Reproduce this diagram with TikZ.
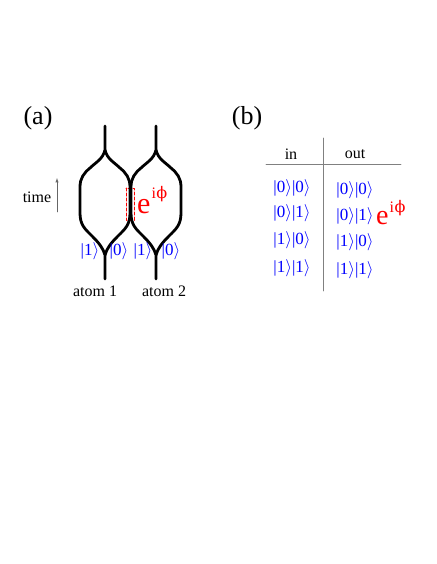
\documentclass[tikz,border=0pt]{standalone}
\usepackage{fontspec}
\setmainfont{Liberation Serif}
\newcommand{\ketof}[1]{|#1\ensuremath{\rangle}}
\newfontfamily\symfont{DejaVu Serif}
\newcommand{\symbolphi}{{\symfont\char"03D5}}
\newcommand{\phasetxt}[1]{e\kern1pt\raisebox{#1}{\fontsize{16}{16}\selectfont i\kern.5pt\symbolphi}}
\begin{document}
\begin{tikzpicture}[x=1pt, y=-1pt, line cap=round, line join=round]
  \tikzset{strand/.style={draw=black, line width=2.8pt},
    ket/.style={text=blue, font=\fontsize{17}{17}\selectfont, inner sep=0pt},
    lbl/.style={font=\fontsize{16}{16}\selectfont, inner sep=0pt},
    panel/.style={font=\fontsize{26}{26}\selectfont, inner sep=0pt},
    phase/.style={text=red, inner sep=0pt, anchor=base west},
    rule/.style={draw=black!50, line width=.6pt}}
  \useasboundingbox (0,0) rectangle (436,564);

  % (a)
  \node[panel] (panela) at (38,118) {(a)};
  \draw[red, line width=1pt, densely dashed] (126,188) rectangle (134,220);
  \foreach \n/\x in {one/105,two/156} {
    \draw[strand] (\x,126) -- (\x,150)
      .. controls (\x-2,159) and (\x-10,163) .. (\x-15,168)
      .. controls (\x-21,173) and (\x-25,178) .. (\x-25,187) -- (\x-25,213)
      .. controls (\x-25,225) and (\x-20,229) .. (\x-13,236)
      .. controls (\x-6,243) and (\x-2,248) .. (\x,255) -- (\x,279);
    \draw[strand] (\x,150)
      .. controls (\x+2,159) and (\x+10,163) .. (\x+15,168)
      .. controls (\x+21,173) and (\x+25,178) .. (\x+25,187) -- (\x+25,213)
      .. controls (\x+25,225) and (\x+20,229) .. (\x+13,236)
      .. controls (\x+6,243) and (\x+2,248) .. (\x,255);
  }
  \node[phase, font=\fontsize{30}{30}\selectfont] (gatephase) at (137,213) {\phasetxt{15pt}};
  \foreach \n/\x/\v in {ka/90/1,kb/119/0,kc/143/1,kd/171/0}
    \node[ket] (\n) at (\x,251) {\ketof{\v}};
  \node[lbl] (atomone) at (95,291) {atom 1};
  \node[lbl] (atomtwo) at (164,291) {atom 2};
  \node[lbl] (timelbl) at (37,197) {time};
  \coordinate (tstart) at (57,212);
  \coordinate (tend) at (57,178);
  \draw[-latex, black!60, line width=.5pt] (tstart) -- (tend);

  % (b)
  \node[panel] (panelb) at (247,118) {(b)};
  \coordinate (vtop) at (323,138);
  \coordinate (vbot) at (323,291);
  \coordinate (hleft) at (266,164);
  \coordinate (hright) at (401,164);
  \draw[rule] (vtop) -- (vbot);
  \draw[rule] (hleft) -- (hright);
  \node[lbl] (inlbl) at (291,154) {in};
  \node[lbl] (outlbl) at (355,154) {out};
  \foreach \n/\y/\u/\v in {a/188/0/0,b/213/0/1,c/240/1/0,d/268/1/1}
    \node[ket] (in\n) at (292,\y) {\ketof{\u}\ketof{\v}};
  \foreach \n/\y/\u/\v in {a/190/0/0,b/216/0/1,c/242/1/0,d/270/1/1}
    \node[ket] (out\n) at (355,\y) {\ketof{\u}\ketof{\v}};
  \node[phase, font=\fontsize{28}{28}\selectfont] (tablephase) at (376,224) {\phasetxt{12pt}};
\end{tikzpicture}
\end{document}
